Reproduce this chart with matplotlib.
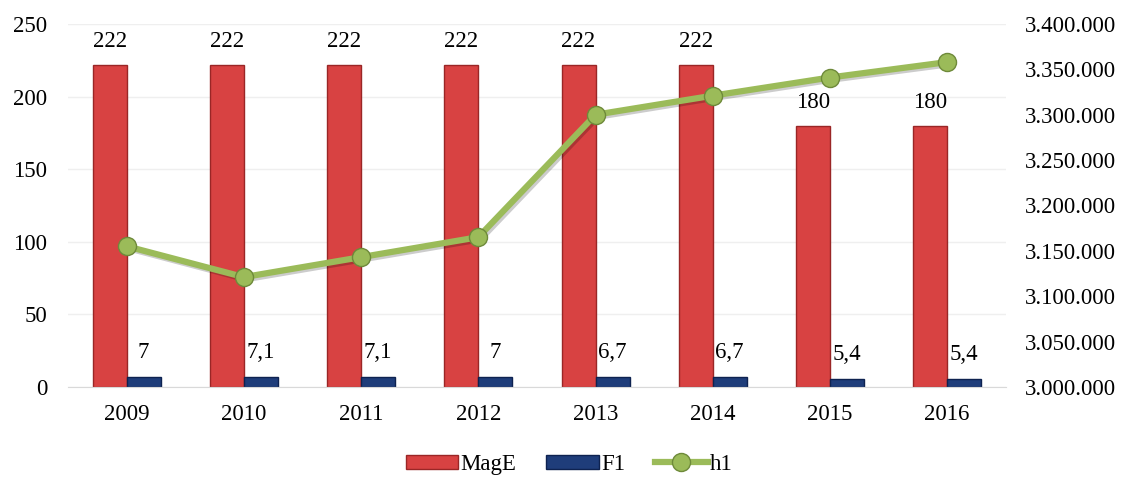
import numpy as np
import matplotlib
matplotlib.use("Agg")
import matplotlib.pyplot as plt
import matplotlib.patheffects as pe
from matplotlib.ticker import FuncFormatter, MultipleLocator
from matplotlib.patches import Patch
from matplotlib.lines import Line2D

plt.rcParams['font.family'] = ['Liberation Serif', 'DejaVu Serif']
plt.rcParams['font.size'] = 16.5

years = ['2009', '2010', '2011', '2012', '2013', '2014', '2015', '2016']
mage = [222, 222, 222, 222, 222, 222, 180, 180]
f1 = [7, 7.1, 7.1, 7, 6.7, 6.7, 5.4, 5.4]
h1 = [3155000, 3121000, 3143000, 3165000, 3300000, 3321000, 3341000, 3358000]

RED = '#D84242'
RED_EDGE = '#9A2626'
BLUE = '#1F3D7A'
BLUE_EDGE = '#0E2250'
GREEN = '#9BBB59'
GREEN_EDGE = '#6E8A3A'


def de_num(v, pos=None):
    # thousands with dots, decimals with comma
    if float(v).is_integer():
        return f"{int(v):,}".replace(',', '.')
    return f"{v:.1f}".replace('.', ',')


fig = plt.figure(figsize=(11.25, 4.8), dpi=100)
ax = fig.add_axes([0.0605, 0.194, 0.8335, 0.756])

x = np.arange(len(years))
w = 0.29
ax.bar(x - w / 2, mage, w, color=RED, edgecolor=RED_EDGE, linewidth=1, zorder=2)
ax.bar(x + w / 2, f1, w, color=BLUE, edgecolor=BLUE_EDGE, linewidth=1, zorder=2)

for xi, v in zip(x, mage):
    ax.annotate(de_num(v), (xi - w / 2, v), xytext=(0, 9), textcoords='offset points',
                ha='center', va='bottom')
for xi, v in zip(x, f1):
    ax.annotate(de_num(v), (xi + w / 2, v), xytext=(0, 10), textcoords='offset points',
                ha='center', va='bottom')

ax.set_xlim(-0.5, len(years) - 0.5)
ax.set_ylim(0, 250)
ax.yaxis.set_major_locator(MultipleLocator(50))
ax.set_xticks(x)
ax.set_xticklabels(years)
ax.grid(axis='y', color='#EFEFEF', linewidth=1, zorder=0)
ax.set_axisbelow(True)
for s in ['top', 'right', 'left']:
    ax.spines[s].set_visible(False)
ax.spines['bottom'].set_color('#D9D9D9')
ax.tick_params(axis='y', length=0, pad=15)
ax.tick_params(axis='x', length=0, pad=12)

ax2 = ax.twinx()
# line with soft shadow, markers drawn on top
ax2.plot(x, h1, color=GREEN, linewidth=4.5, zorder=3,
         path_effects=[pe.SimpleLineShadow(offset=(1.5, -1.5), alpha=0.2), pe.Normal()])
ax2.plot(x, h1, linestyle='none', marker='o', markersize=13,
         markerfacecolor=GREEN, markeredgecolor=GREEN_EDGE, markeredgewidth=1, zorder=4)
ax2.set_ylim(3000000, 3400000)
ax2.yaxis.set_major_locator(MultipleLocator(50000))
ax2.yaxis.set_major_formatter(FuncFormatter(de_num))
for s in ax2.spines.values():
    s.set_visible(False)
ax2.tick_params(axis='y', length=0, pad=14)

handles = [
    Patch(facecolor=RED, edgecolor=RED_EDGE, label='MagE'),
    Patch(facecolor=BLUE, edgecolor=BLUE_EDGE, label='F1'),
    Line2D([0], [0], color=GREEN, linewidth=4.5, marker='o', markersize=13,
           markerfacecolor=GREEN, markeredgecolor=GREEN_EDGE, label='h1'),
]
fig.legend(handles=handles, loc='center', bbox_to_anchor=(0.506, 0.032), ncol=3,
           frameon=False, handlelength=2.3, handleheight=0.6, handletextpad=0.1,
           columnspacing=1.3)

fig.savefig('out.png', dpi=100)
